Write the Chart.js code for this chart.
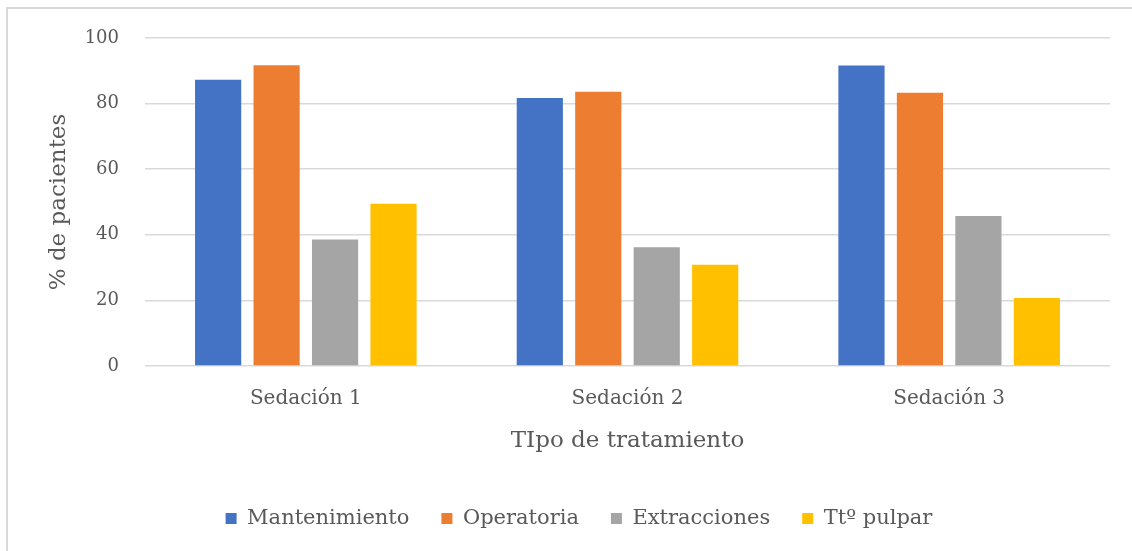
<!DOCTYPE html>
<html>
<head>
<meta charset="utf-8">
<script src="https://cdn.jsdelivr.net/npm/chart.js@4"></script>
<style>
  html, body { margin: 0; padding: 0; background: #fff; }
  #wrap { position: relative; width: 1132px; height: 551px; }
  #frame {
    position: absolute; left: 6px; top: 7px; right: -10px; bottom: -10px;
    border-left: 2px solid #d9d9d9; border-top: 2px solid #d9d9d9;
    pointer-events: none;
  }
</style>
</head>
<body>
<div id="wrap">
  <canvas id="chart" width="1132" height="551"></canvas>
  <div id="frame"></div>
</div>
<script>
const categories = ['Sedación 1', 'Sedación 2', 'Sedación 3'];
const seriesNames = ['Mantenimiento', 'Operatoria', 'Extracciones', 'Ttº pulpar'];
const mantenimiento = [87.3, 81.7, 91.6];
const operatoria = [91.7, 83.6, 83.3];
const extracciones = [38.6, 36.2, 45.7];
const pulpar = [49.5, 30.9, 20.7];
const colors = ['#4472C4', '#ED7D31', '#A5A5A5', '#FFC000'];

const textColor = '#595959';
const fontFamily = '"DejaVu Serif", serif';

const values = [mantenimiento, operatoria, extracciones, pulpar];
const datasets = values.map((v, i) => ({
    label: seriesNames[i],
    data: v,
    backgroundColor: colors[i],
    borderWidth: 0,
    categoryPercentage: 0.727,
    barPercentage: 0.79
}));

// nudge the legend right a bit, like the original which is not centred on the canvas
const legendShift = {
    id: 'legendShift',
    afterLayout(chart) {
        chart.legend.left += 20;
        chart.legend.right += 20;
    }
};

new Chart(document.getElementById('chart'), {
    type: 'bar',
    data: { labels: categories, datasets: datasets },
    plugins: [legendShift],
    options: {
        responsive: false,
        animation: false,
        layout: { padding: { left: 8, right: 22, top: 38, bottom: 12 } },
        plugins: {
            tooltip: { enabled: false },
            legend: {
                position: 'bottom',
                labels: {
                    boxWidth: 11,
                    boxHeight: 11,
                    padding: 32,
                    color: textColor,
                    font: { family: fontFamily, size: 21 }
                }
            }
        },
        scales: {
            x: {
                grid: { display: false, drawTicks: false },
                border: { display: false },
                ticks: {
                    color: textColor,
                    padding: 21,
                    font: { family: fontFamily, size: 20 }
                },
                title: {
                    display: true,
                    text: 'TIpo de tratamiento',
                    color: textColor,
                    padding: { top: 0, bottom: 21 },
                    font: { family: fontFamily, size: 23 }
                },
                afterFit: function(scale) { scale.height = 110; }
            },
            y: {
                min: 0,
                max: 100,
                grid: { color: '#d9d9d9', lineWidth: 1.5, drawTicks: false },
                border: { display: false },
                ticks: {
                    stepSize: 20,
                    color: textColor,
                    padding: 26,
                    font: { family: fontFamily, size: 18 }
                },
                title: {
                    display: true,
                    text: '% de pacientes',
                    color: textColor,
                    padding: { top: 37, bottom: 0 },
                    font: { family: fontFamily, size: 23 }
                },
                afterFit: function(scale) { scale.width = 137; }
            }
        }
    }
});
</script>
</body>
</html>
